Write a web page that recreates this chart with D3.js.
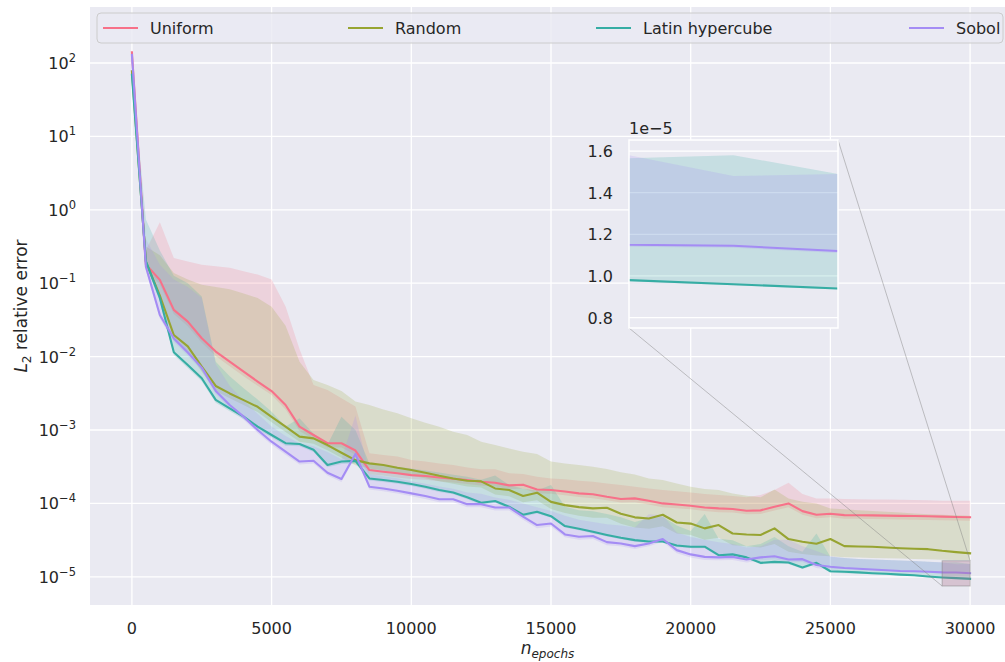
<!DOCTYPE html>
<html><head><meta charset="utf-8">
<script src="https://cdn.jsdelivr.net/npm/d3@7"></script>
<style>
body{margin:0;background:#fff}
svg{display:block}
text{font-family:"DejaVu Sans",sans-serif;fill:#262626}
</style>
</head><body>
<svg id="chart" width="1005" height="662"></svg>
<script>
// ---------------- data ----------------
const epochs = [0,500,1000,1500,2000,2500,3000,3500,4000,4500,
  5000,5500,6000,6500,7000,7500,8000,8500,9000,9500,
  10000,10500,11000,11500,12000,12500,13000,13500,14000,14500,
  15000,15500,16000,16500,17000,17500,18000,18500,19000,19500,
  20000,20500,21000,21500,22000,22500,23000,23500,24000,24500,
  25000,25500,26000,26500,27000,27500,28000,28500,29000,29500,30000];

const seriesNames = ["Uniform","Random","Latin hypercube","Sobol"];
const seriesColors = ["#f77189","#97a431","#36ada4","#a48cf4"];

const uniformMean = [140,0.18,0.111,0.0433,0.030,0.0178,0.0117,0.00855,0.00624,0.00457,
  0.00339,0.00219,0.00111,8.55e-4,6.61e-4,6.6e-4,5.25e-4,2.85e-4,2.70e-4,2.57e-4,
  2.43e-4,2.36e-4,2.26e-4,2.17e-4,2.08e-4,1.97e-4,1.91e-4,1.76e-4,1.80e-4,1.55e-4,
  1.52e-4,1.45e-4,1.37e-4,1.33e-4,1.23e-4,1.15e-4,1.17e-4,1.09e-4,1.00e-4,9.68e-5,
  9.29e-5,8.81e-5,8.55e-5,8.38e-5,7.94e-5,8.04e-5,9.02e-5,1.0e-4,7.85e-5,7.0e-5,
  7.23e-5,6.93e-5,6.90e-5,6.87e-5,6.82e-5,6.76e-5,6.73e-5,6.68e-5,6.61e-5,6.52e-5,6.49e-5];
const uniformLo = [125,0.16,0.095,0.038,0.026,0.0155,0.0102,0.0074,0.0054,0.004,
  0.003,0.0019,9.7e-4,7.5e-4,5.8e-4,5.8e-4,4.6e-4,2.5e-4,2.4e-4,2.25e-4,
  2.15e-4,2.1e-4,2.0e-4,1.92e-4,1.84e-4,1.75e-4,1.7e-4,1.56e-4,1.6e-4,1.38e-4,
  1.35e-4,1.29e-4,1.22e-4,1.18e-4,1.1e-4,1.03e-4,1.04e-4,9.7e-5,8.9e-5,8.6e-5,
  8.3e-5,7.9e-5,7.6e-5,7.5e-5,7.1e-5,7.2e-5,8.0e-5,8.9e-5,7.0e-5,6.3e-5,
  6.5e-5,6.2e-5,6.2e-5,6.15e-5,6.1e-5,6.05e-5,6.0e-5,5.95e-5,5.9e-5,5.85e-5,5.8e-5];
const uniformHi = [158,0.282,0.676,0.22,0.198,0.179,0.17,0.162,0.145,0.131,
  0.112,0.0483,0.0126,0.00411,0.00351,0.0027,0.00209,4.81e-4,4.57e-4,4.37e-4,
  3.89e-4,3.72e-4,3.51e-4,3.33e-4,3.09e-4,2.91e-4,2.91e-4,2.57e-4,2.51e-4,2.31e-4,
  2.19e-4,2.14e-4,2.04e-4,1.97e-4,1.87e-4,1.78e-4,1.69e-4,1.60e-4,1.52e-4,1.47e-4,
  1.41e-4,1.34e-4,1.30e-4,1.26e-4,1.21e-4,1.30e-4,1.52e-4,1.91e-4,1.34e-4,1.17e-4,
  1.17e-4,1.15e-4,1.14e-4,1.13e-4,1.13e-4,1.12e-4,1.11e-4,1.10e-4,1.09e-4,1.09e-4,1.09e-4];

const randomMean = [77,0.196,0.0676,0.0197,0.0138,0.00731,0.00398,0.00315,0.00255,0.00207,
  0.00151,0.00111,8.13e-4,7.69e-4,6.24e-4,4.90e-4,3.89e-4,3.51e-4,3.33e-4,3.06e-4,
  2.85e-4,2.62e-4,2.38e-4,2.19e-4,2.04e-4,2.00e-4,1.60e-4,1.52e-4,1.26e-4,1.40e-4,
  1.05e-4,9.48e-5,8.91e-5,8.55e-5,8.73e-5,7.24e-5,6.46e-5,6.24e-5,7.00e-5,5.50e-5,
  5.31e-5,4.57e-5,5.07e-5,3.89e-5,3.78e-5,3.72e-5,4.57e-5,3.27e-5,3.00e-5,2.82e-5,
  3.27e-5,2.62e-5,2.59e-5,2.57e-5,2.51e-5,2.45e-5,2.41e-5,2.38e-5,2.26e-5,2.17e-5,2.09e-5];
const randomLo = [70,0.17,0.058,0.017,0.0118,0.0062,0.0034,0.0027,0.0022,0.00176,
  0.00128,9.4e-4,6.9e-4,6.5e-4,5.3e-4,4.2e-4,3.3e-4,3.0e-4,2.8e-4,2.6e-4,
  2.4e-4,2.2e-4,2.0e-4,1.85e-4,1.7e-4,1.65e-4,1.32e-4,1.25e-4,1.04e-4,1.1e-4,
  8.4e-5,7.4e-5,6.8e-5,6.4e-5,6.4e-5,5.3e-5,4.7e-5,4.5e-5,4.9e-5,3.9e-5,
  3.7e-5,3.2e-5,3.4e-5,2.7e-5,2.6e-5,2.5e-5,2.8e-5,2.2e-5,2.05e-5,1.95e-5,
  1.9e-5,1.85e-5,1.83e-5,1.81e-5,1.79e-5,1.77e-5,1.75e-5,1.73e-5,1.71e-5,1.7e-5,1.7e-5];
const randomHi = [89,0.316,0.24,0.138,0.112,0.0955,0.089,0.083,0.0724,0.063,
  0.0479,0.0263,0.0085,0.0048,0.0041,0.0034,0.00245,0.00219,0.00191,0.00169,
  0.00145,0.00126,0.00111,9.5e-4,8.55e-4,6.9e-4,6.24e-4,5.62e-4,5.07e-4,4.71e-4,
  3.72e-4,3.51e-4,3.33e-4,3.16e-4,2.94e-4,2.65e-4,2.48e-4,2.19e-4,2.08e-4,1.87e-4,
  1.69e-4,1.57e-4,1.52e-4,1.37e-4,1.27e-4,1.21e-4,1.55e-4,1.17e-4,1.05e-4,1.0e-4,
  8.55e-5,8.3e-5,8.1e-5,7.9e-5,7.7e-5,7.5e-5,7.3e-5,7.1e-5,7.0e-5,6.9e-5,6.8e-5];

const latinMean = [69,0.20,0.0631,0.0115,0.00769,0.00507,0.00257,0.00197,0.00152,0.00111,
  8.55e-4,6.61e-4,6.46e-4,5.37e-4,3.33e-4,3.72e-4,3.80e-4,2.19e-4,2.08e-4,1.97e-4,
  1.84e-4,1.69e-4,1.52e-4,1.41e-4,1.21e-4,1.02e-4,1.08e-4,9.02e-5,7.00e-5,7.69e-5,
  6.71e-5,4.91e-5,4.52e-5,4.11e-5,3.72e-5,3.40e-5,3.16e-5,3.03e-5,3.03e-5,2.67e-5,
  2.57e-5,2.57e-5,1.97e-5,2.02e-5,1.84e-5,1.55e-5,1.60e-5,1.57e-5,1.34e-5,1.55e-5,
  1.19e-5,1.17e-5,1.15e-5,1.12e-5,1.10e-5,1.07e-5,1.05e-5,1.01e-5,9.8e-6,9.6e-6,9.4e-6];
const latinLo = [62,0.18,0.056,0.0105,0.007,0.0046,0.00235,0.0018,0.0014,0.00102,
  7.9e-4,6.1e-4,6.0e-4,5.0e-4,3.1e-4,3.45e-4,3.5e-4,2.05e-4,1.95e-4,1.85e-4,
  1.73e-4,1.59e-4,1.43e-4,1.33e-4,1.14e-4,9.6e-5,1.02e-4,8.5e-5,6.6e-5,7.3e-5,
  6.4e-5,4.7e-5,4.3e-5,3.9e-5,3.55e-5,3.25e-5,3.0e-5,2.9e-5,2.9e-5,2.55e-5,
  2.45e-5,2.45e-5,1.88e-5,1.93e-5,1.76e-5,1.48e-5,1.53e-5,1.5e-5,1.28e-5,1.48e-5,
  1.14e-5,1.12e-5,1.1e-5,1.08e-5,1.06e-5,1.04e-5,1.02e-5,9.9e-6,9.75e-6,9.55e-6,9.35e-6];
const latinHi = [79,0.74,0.28,0.126,0.1,0.066,0.0085,0.0054,0.0037,0.0026,
  0.00178,0.00112,0.00145,8.9e-4,6.3e-4,0.00151,0.001,3.5e-4,3.3e-4,3.16e-4,
  3.0e-4,2.8e-4,2.63e-4,2.45e-4,2.3e-4,2.1e-4,2.4e-4,1.78e-4,1.58e-4,1.5e-4,
  1.78e-4,9.0e-5,8.1e-5,7.8e-5,7.2e-5,6.5e-5,5.6e-5,6.3e-5,6.6e-5,5.0e-5,
  4.2e-5,7.2e-5,3.3e-5,3.16e-5,2.6e-5,2.8e-5,3.5e-5,2.6e-5,2.2e-5,3.9e-5,
  1.87e-5,1.8e-5,1.75e-5,1.72e-5,1.7e-5,1.67e-5,1.64e-5,1.6e-5,1.565e-5,1.58e-5,1.49e-5];

const sobolMean = [129,0.168,0.0368,0.0177,0.0114,0.00708,0.00341,0.00219,0.00152,0.001,
  6.93e-4,5.07e-4,3.72e-4,3.82e-4,2.62e-4,2.15e-4,4.71e-4,1.69e-4,1.60e-4,1.49e-4,
  1.37e-4,1.26e-4,1.14e-4,1.14e-4,9.77e-5,9.77e-5,8.81e-5,8.81e-5,6.61e-5,5.07e-5,
  5.33e-5,3.78e-5,3.51e-5,3.59e-5,2.97e-5,2.85e-5,2.62e-5,2.85e-5,3.27e-5,2.31e-5,
  2.02e-5,1.87e-5,1.84e-5,1.87e-5,1.72e-5,1.84e-5,1.91e-5,1.72e-5,1.74e-5,1.45e-5,
  1.37e-5,1.32e-5,1.29e-5,1.26e-5,1.23e-5,1.20e-5,1.19e-5,1.17e-5,1.15e-5,1.145e-5,1.12e-5];
const sobolLo = [118,0.15,0.033,0.016,0.0103,0.0064,0.0031,0.002,0.00138,9.1e-4,
  6.3e-4,4.6e-4,3.4e-4,3.5e-4,2.4e-4,1.95e-4,4.3e-4,1.55e-4,1.46e-4,1.36e-4,
  1.25e-4,1.15e-4,1.04e-4,1.04e-4,8.9e-5,8.9e-5,8.0e-5,8.0e-5,6.0e-5,4.6e-5,
  4.85e-5,3.45e-5,3.2e-5,3.27e-5,2.7e-5,2.6e-5,2.4e-5,2.6e-5,3.0e-5,2.1e-5,
  1.84e-5,1.7e-5,1.68e-5,1.7e-5,1.57e-5,1.68e-5,1.74e-5,1.57e-5,1.59e-5,1.32e-5,
  1.25e-5,1.3e-5,1.27e-5,1.24e-5,1.21e-5,1.18e-5,1.17e-5,1.16e-5,1.14e-5,1.135e-5,1.11e-5];
const sobolHi = [141,0.4,0.178,0.112,0.089,0.063,0.0079,0.004,0.0025,0.00166,
  0.00112,8.3e-4,6.6e-4,6.0e-4,5.0e-4,4.0e-4,0.00158,2.5e-4,2.35e-4,2.2e-4,
  2.0e-4,1.86e-4,1.7e-4,1.58e-4,1.41e-4,1.35e-4,1.2e-4,1.12e-4,1.0e-4,8.9e-5,
  7.9e-5,6.8e-5,6.0e-5,5.6e-5,5.2e-5,5.0e-5,4.7e-5,7.1e-5,6.9e-5,4.0e-5,
  3.5e-5,3.2e-5,2.95e-5,2.8e-5,2.5e-5,2.6e-5,3.2e-5,3.2e-5,2.6e-5,2.25e-5,
  1.9e-5,1.8e-5,1.75e-5,1.72e-5,1.7e-5,1.67e-5,1.64e-5,1.61e-5,1.58e-5,1.48e-5,1.49e-5];

const xTicks = [0,5000,10000,15000,20000,25000,30000];
const yTickExponents = [-5,-4,-3,-2,-1,0,1,2];
const insetTicks = [0.8,1.0,1.2,1.4,1.6];      // in units of 1e-5
const insetXRange = [29000,30000];
const insetYRange = [0.75e-5,1.653e-5];

// ---------------- build ----------------
const means = [uniformMean, randomMean, latinMean, sobolMean];
const los = [uniformLo, randomLo, latinLo, sobolLo];
const his = [uniformHi, randomHi, latinHi, sobolHi];
const series = seriesNames.map((name,i)=>({
  name, color: seriesColors[i],
  pts: epochs.map((e,j)=>({e, m: means[i][j], lo: los[i][j], hi: his[i][j]}))
}));

const W = 1005, H = 662;
const L = 90, R = 1005, T = 7, B = 605;
const svg = d3.select("#chart");
const defs = svg.append("defs");

const x = d3.scaleLinear().domain([-1500, 31500]).range([90, 1012]);
const y = d3.scaleLog().domain([Math.pow(10,-5.384), Math.pow(10,2.763)]).range([B, T]);

defs.append("clipPath").attr("id","plotClip").append("rect")
  .attr("x",L).attr("y",T).attr("width",R-L).attr("height",B-T);

svg.append("rect").attr("x",L).attr("y",T).attr("width",R-L).attr("height",B-T).attr("fill","#eaeaf2");

const grid = svg.append("g").attr("clip-path","url(#plotClip)");
grid.selectAll("line.vx").data(xTicks).join("line")
  .attr("x1",d=>x(d)).attr("x2",d=>x(d)).attr("y1",T).attr("y2",B)
  .attr("stroke","#fff").attr("stroke-width",1.3);
grid.selectAll("line.hy").data(yTickExponents).join("line")
  .attr("x1",L).attr("x2",R).attr("y1",d=>y(Math.pow(10,d))).attr("y2",d=>y(Math.pow(10,d)))
  .attr("stroke","#fff").attr("stroke-width",1.3);

const plotG = svg.append("g").attr("clip-path","url(#plotClip)");
const area = d3.area().x(d=>x(d.e)).y0(d=>y(d.lo)).y1(d=>y(d.hi));
const line = d3.line().x(d=>x(d.e)).y(d=>y(d.m));
plotG.selectAll("path.band").data(series).join("path")
  .attr("d",d=>area(d.pts)).attr("fill",d=>d.color).attr("fill-opacity",0.2).attr("stroke","none");
plotG.selectAll("path.ln").data(series).join("path")
  .attr("d",d=>line(d.pts)).attr("fill","none").attr("stroke",d=>d.color)
  .attr("stroke-width",2.1).attr("stroke-linejoin","round").attr("stroke-linecap","square");

// x tick labels
svg.selectAll("text.xt").data(xTicks).join("text")
  .attr("x",d=>x(d)).attr("y",634).attr("text-anchor","middle").attr("font-size",16)
  .text(d=>d);
// y tick labels
const yt = svg.selectAll("text.yt").data(yTickExponents).join("text")
  .attr("x",76).attr("y",d=>y(Math.pow(10,d))+6).attr("text-anchor","end").attr("font-size",16);
yt.append("tspan").text("10");
yt.append("tspan").attr("dy",-7).attr("font-size",11.5).text(d=>d<0?"\u2212"+(-d):String(d));

// axis labels
const xl = svg.append("text").attr("x",(L+R)/2).attr("y",654).attr("text-anchor","middle").attr("font-size",17);
xl.append("tspan").attr("font-style","italic").text("n");
xl.append("tspan").attr("font-style","italic").attr("font-size",12).attr("dy",4).text("epochs");

const yl = svg.append("text").attr("transform",`translate(27,${(T+B)/2}) rotate(-90)`)
  .attr("text-anchor","middle").attr("font-size",17);
yl.append("tspan").attr("font-style","italic").text("L");
yl.append("tspan").attr("font-size",12).attr("dy",4).text("2");
yl.append("tspan").attr("dy",-4).text(" relative error");

// inset indicator
const rx0 = x(insetXRange[0]), rx1 = x(insetXRange[1]);
const ry0 = y(insetYRange[1]), ry1 = y(insetYRange[0]);
svg.append("rect").attr("x",rx0).attr("y",ry0).attr("width",rx1-rx0).attr("height",ry1-ry0)
  .attr("fill","#a86a84").attr("fill-opacity",0.3).attr("stroke","#808080").attr("stroke-opacity",0.5).attr("stroke-width",1);

const IL = 629, IR = 838, IT = 140, IB = 328;
svg.append("line").attr("x1",IR).attr("y1",IT).attr("x2",rx1).attr("y2",ry0)
  .attr("stroke","#808080").attr("stroke-opacity",0.45).attr("stroke-width",1);
svg.append("line").attr("x1",IL).attr("y1",IB).attr("x2",rx0).attr("y2",ry1)
  .attr("stroke","#808080").attr("stroke-opacity",0.45).attr("stroke-width",1);

// legend
const legendX = [103,348,596,909];
svg.append("rect").attr("x",97).attr("y",13).attr("width",906).attr("height",30).attr("rx",4)
  .attr("fill","#eaeaf2").attr("fill-opacity",0.8).attr("stroke","#cccccc").attr("stroke-width",1);
const lg = svg.selectAll("g.lg").data(series).join("g").attr("transform",(d,i)=>`translate(${legendX[i]},28)`);
lg.append("line").attr("x1",0).attr("x2",35).attr("y1",0).attr("y2",0).attr("stroke",d=>d.color).attr("stroke-width",2.1);
lg.append("text").attr("x",47).attr("y",6).attr("font-size",16).text(d=>d.name);

// inset axes
const ix = d3.scaleLinear().domain(insetXRange).range([IL, IR]);
const iy = d3.scaleLinear().domain(insetYRange).range([IB, IT]);
defs.append("clipPath").attr("id","insetClip").append("rect")
  .attr("x",IL).attr("y",IT).attr("width",IR-IL).attr("height",IB-IT);
const ins = svg.append("g");
ins.append("rect").attr("x",IL).attr("y",IT).attr("width",IR-IL).attr("height",IB-IT).attr("fill","#eaeaf2");
const insC = ins.append("g").attr("clip-path","url(#insetClip)");
insC.selectAll("line.ig").data(insetTicks).join("line")
  .attr("x1",IL).attr("x2",IR).attr("y1",d=>iy(d*1e-5)).attr("y2",d=>iy(d*1e-5))
  .attr("stroke","#fff").attr("stroke-width",1.3);
const iarea = d3.area().x(d=>ix(d.e)).y0(d=>iy(d.lo)).y1(d=>iy(d.hi));
const iline = d3.line().x(d=>ix(d.e)).y(d=>iy(d.m));
const near = s => s.pts.filter(p=>p.e>=28500);
insC.selectAll("path.ib").data(series).join("path")
  .attr("d",d=>iarea(near(d))).attr("fill",d=>d.color).attr("fill-opacity",0.2);
insC.selectAll("path.il").data(series).join("path")
  .attr("d",d=>iline(near(d))).attr("fill","none").attr("stroke",d=>d.color).attr("stroke-width",2.1);
ins.append("rect").attr("x",IL).attr("y",IT).attr("width",IR-IL).attr("height",IB-IT)
  .attr("fill","none").attr("stroke","#fff").attr("stroke-width",1.5);
ins.selectAll("text.it").data(insetTicks).join("text")
  .attr("x",613).attr("y",d=>iy(d*1e-5)+6).attr("text-anchor","end").attr("font-size",16)
  .text(d=>d.toFixed(1));
ins.append("text").attr("x",IL).attr("y",134).attr("font-size",16).text("1e\u22125");
</script>
</body></html>
